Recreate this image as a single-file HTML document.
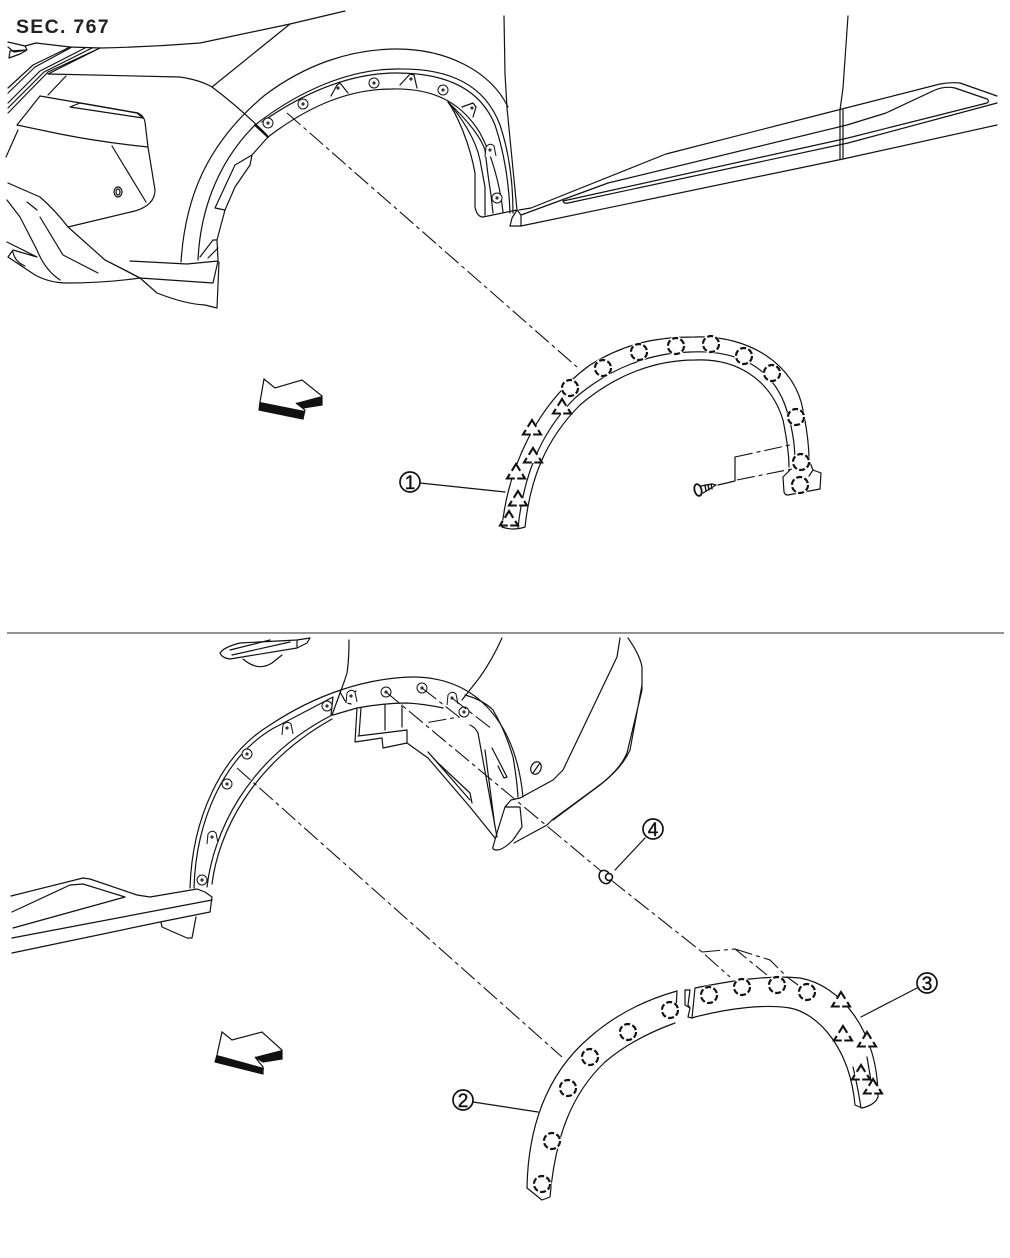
<!DOCTYPE html>
<html><head><meta charset="utf-8"><style>
html,body{margin:0;padding:0;background:#fff}
svg{display:block}
text{font-family:"Liberation Sans",sans-serif}
</style></head><body>
<svg width="1010" height="1258" viewBox="0 0 1010 1258" xmlns="http://www.w3.org/2000/svg">
<defs>
<g id="c"><circle r="9.5" fill="#fff"/><circle r="8" fill="none" stroke="#111" stroke-width="2.2" stroke-dasharray="6 2.4"/></g>
<g id="t"><path d="M0-8.5 L9.5 7 L-9.5 7Z" fill="#fff"/><path d="M-4.2 -1.2 L0 -8 L4.2 -1.2 M6.2 1.9 L9 6.5 L1.2 6.5 M-6.2 1.9 L-9 6.5 L-1.2 6.5" fill="none" stroke="#111" stroke-width="2.1"/></g>
<g id="d"><circle r="5" fill="#fff" stroke="#111" stroke-width="1"/><circle r="1.6" fill="#333"/></g>
<g id="b"><path d="M-5 7 L-4 -3 Q0 -8 4 -4 L6 6" fill="#fff" stroke="#111" stroke-width="1"/><circle r="1.6" fill="#333"/></g>
<g id="p"><circle r="1.6" fill="#333"/></g>
</defs>
<text x="16" y="33" font-size="19.5" font-weight="700" letter-spacing="1.3" fill="#222">SEC. 767</text>
<path d="M7 633H1004" stroke="#555" stroke-width="1.3"/>

<g fill="none" stroke="#111" stroke-width="1.2" stroke-linecap="round" stroke-linejoin="round">
<!-- TOP: bumper -->
<path d="M345 11 L290 24 L200 43 Q150 47 100 48 L70 47 L36 43 L25 46 L8 42"/>
<path d="M290 24 L212 87"/>
<path d="M48 74 L180 77 Q200 80 212 87 Q240 108 267 135"/>
<path d="M48 74 L100 48 M8 88 L33 65 L70 47 M8 93 L35 67 L72 47 M8 103 L40 71 L85 48 M8 108 L44 72 L92 48 M8 113 L48 72 L100 48"/>
<path d="M8 47 L14 52 L27 50 L25 46 M10 51 L27 50 L20 54 L9 58Z"/>
<path d="M17 125 L40 96 L138 113 Q144 116 145 122 L148 147 Q100 142 60 134 Z"/>
<path d="M70 107 L80 103 L137 113 L143 118 Z"/>
<path d="M48 95 L66 76"/>
<path d="M112 146 L146 202"/>
<path d="M18 130 L6 157"/>
<path d="M148 147 L155 190 Q155 205 135 211 L68 227"/>
<ellipse cx="118" cy="192" rx="4" ry="5"/>
<ellipse cx="118" cy="192" rx="2" ry="3"/>
<path d="M8 183 L40 197 Q55 210 68 227 L105 260 Q125 270 140 278 L157 293 Q185 304 205 305 L217 308 L219 262"/>
<path d="M7 200 L20 217 L37 250 Q45 270 60 280"/>
<path d="M27 202 L37 210 M40 217 L63 255 L98 273"/>
<path d="M7 242 L37 257 M8 257 L13 250 L37 257 M13 252 Q15 262 25 266 M8 257 Q20 265 35 275 Q50 283 67 283 Q105 283 140 278"/>
<path d="M130 261 L187 264 L218 261 L213 283 L140 278 L105 260"/>
<!-- TOP: flare -->
<path d="M181 262 C185 200 205 145 265 95 C305 65 350 49 397 49 C445 49 490 70 508 107"/>
<path d="M198 260 C200 215 215 165 255 125 C300 90 350 69 397 69 C450 68 485 85 500 125 C510 155 513 185 513 213"/>
<path d="M262 122 C305 92 350 73 397 73 C445 73 480 88 495 125 C505 155 509 185 510 213"/>
<path d="M268 137 C310 105 350 89 392 89 C430 88 460 100 480 133 C492 155 500 185 503 212"/>
<path d="M255 125 L268 137" stroke-width="2"/>
<path d="M448 102 C465 118 480 135 485 150 L488 175 L491 195 L493 213"/>
<path d="M448 102 C462 118 476 140 480 160 L485 187 L485 215"/>
<path d="M448 102 C458 116 470 145 475 173 L475 207 Q477 217 483 217 L517 210"/>
<path d="M268 137 L252 155 L235 165 L215 208 L225 210 L235 187 L250 165 L252 155"/>
<path d="M225 210 L217 240 L218 260 M200 257 L213 240 L217 240 M208 258 L218 248"/>
<path d="M331 96 L337 85 L340 83 L348 93 M400 85 L410 74 L414 75 L417 88 M462 107 L473 103 L476 107 L473 117"/>
<!-- TOP: sill -->
<path d="M504 16 L505 74 L507 108 L517 210"/>
<path d="M848 16 L843 88 L840 110"/>
<path d="M519 210 L531 208 L666 154 L838 110 L940 84 Q950 82 960 83 L997 96"/>
<path d="M521 215 L608 183 L847 125 L886 113 L935 90 Q945 86 955 88 L987 99 Q990 101 987 103 L848 138 L563 201 Q564 204 568 203 L848 143 L997 103"/>
<path d="M510 226 L521 226 L843 159 L997 125"/>
<path d="M510 226 L512 218 L517 210 L521 215 L521 226"/>
<path d="M840 110 L840 159 M843 110 L843 159"/>

<!-- Part 1 -->
<path d="M502 527 C508 470 535 405 590 365 C630 340 665 337 695 337 C750 335 795 365 803 410 C807 430 809 445 809 460"/>
<path d="M518 528 C523 480 538 435 575 398 C610 368 650 353 690 352 C735 350 770 365 785 405 C792 425 795 445 795 462"/>
<path d="M525 527 C530 480 545 440 580 405 C615 375 655 360 695 360 C735 358 770 378 783 420 C787 440 789 455 789 467"/>
<path d="M502 527 Q513 531 525 527"/>
<path d="M790 470 L783 477 L784 492 Q785 495 788 495 L820 489 L821 473 L813 470 L809 476 M813 470 L809 460"/>

<!-- Leader 1 -->
<circle cx="410" cy="482" r="10" stroke-width="1.7"/>
<text x="410" y="489" font-size="19" text-anchor="middle" fill="#111" stroke="#111" stroke-width=".4">1</text>
<path d="M420 483 L505 492"/>

<!-- Screw -->
<ellipse cx="698" cy="490" rx="3.5" ry="6" transform="rotate(-15 698 490)" stroke-width="1.8"/>
<path d="M701 486 L712 484 L716 485 L703 493" stroke-width="1.2"/>
<path d="M705 485 L706 491 M708 484.5 L709 490 M711 484 L712 489" stroke-width="1.4"/>
<path d="M718 485 L735 481 L735 457"/>

<!-- BOTTOM: car -->
<path d="M220 653 Q224 647 240 643 L297 640 L310 638 L307 643 L297 648 L230 659 Q222 658 220 653Z"/>
<path d="M230 650 L270 640 M232 655 L290 642 M297 640 L297 648"/>
<path d="M243 659 Q258 672 272 663 L282 655"/>
<path d="M349 640 Q349 660 347 673 Q344 683 340 693 L332 715"/>
<path d="M190 888 C192 820 220 755 270 725 C315 695 365 678 413 677 C470 677 515 715 523 797"/>
<path d="M194 888 C196 820 224 758 272 729 L333 697 L331 715"/>
<path d="M207 887 C213 835 245 760 332 715"/>
<path d="M212 884 C218 835 250 765 332 719"/>
<path d="M465 695 Q483 700 493 710 Q505 730 513 757 Q517 780 518 797"/>
<path d="M333 715 L357 708 Q385 703 407 703 Q425 704 443 708"/>
<path d="M344 699 L340 692 M351 704 Q345 703 343 697 M348 696 L356 691"/>
<path d="M357 708 L355 742 L382 738 L383 748 L407 743 L407 730 L383 733 L358 736 M385 705 L385 730 M402 705 L402 727 M361 708 L359 735"/>
<path d="M407 743 L428 758 L470 807 L495 838 M428 752 L438 763 L470 793 L472 803 M428 752 L470 800"/>
<path d="M478 733 L497 837 M485 750 L495 827 M492 748 L507 777 L504 778 L498 766"/>
<path d="M478 733 Q475 727 470 725"/>
<path d="M493 847 Q497 832 505 807 L520 807 L522 827 L513 840 Q503 850 497 850 Q492 850 493 847Z"/>
<path d="M505 807 L511 800 L520 798 M514 843 L547 825 L552 820 L597 787 Q620 770 627 753 L642 690 L642 673 M553 820 L600 785 Q622 768 630 750 L642 685"/>
<path d="M628 638 Q640 655 642 667 L642 673"/>
<path d="M620 638 L617 657 L563 770 L553 780 L520 798"/>
<path d="M502 638 Q492 660 480 677 L462 700"/>
<ellipse cx="536" cy="768" rx="5" ry="6.5" transform="rotate(25 536 768)"/>
<path d="M533 773 L540 763"/>
<!-- Bottom sill -->
<path d="M11 896 L83 878 L90 879 L137 895 L150 897 L197 889 L205 892 L212 897 L210 912 L160 922 L12 953"/>
<path d="M12 912 L70 885 L83 884 L125 897 L13 928"/>
<path d="M12 938 L212 900"/>
<path d="M161 922 L162 927 L187 938 L192 938 L196 917"/>

<!-- Part 2 -->
<path d="M527 1188 C528 1130 545 1075 590 1037 C615 1015 645 1000 677 991 L676 1010"/>
<path d="M675 1023 C650 1032 625 1045 605 1062 C570 1095 555 1140 550 1197 L542 1200 L527 1188"/>

<!-- Part 3 -->
<path d="M695 988 C735 980 770 975 800 978 C840 985 878 1030 878 1097 Q875 1105 862 1108 L855 1105 C850 1050 820 1014 790 1008 C765 1004 730 1008 695 1017 L692 1018 L695 988"/>
<path d="M861 1108 Q858 1088 853 1067 M867 1057 L872 1087"/>
<path d="M685 990 L690 990 L688 1005 L690 1008 M685 990 L685 1005 L690 1008 M690 1008 L688 1017 L692 1018"/>

<!-- Leaders -->
<circle cx="463" cy="1100" r="10" stroke-width="1.7"/>
<text x="463" y="1107" font-size="19" text-anchor="middle" fill="#111" stroke="#111" stroke-width=".4">2</text>
<path d="M473 1102 L538 1112"/>
<circle cx="927" cy="983" r="10" stroke-width="1.7"/>
<text x="927" y="990" font-size="19" text-anchor="middle" fill="#111" stroke="#111" stroke-width=".4">3</text>
<path d="M917 988 L861 1017"/>
<circle cx="653" cy="829" r="10" stroke-width="1.7"/>
<text x="653" y="836" font-size="19" text-anchor="middle" fill="#111" stroke="#111" stroke-width=".4">4</text>
<path d="M645 838 L615 870"/>
<!-- clip 4 -->
<ellipse cx="605" cy="877" rx="5.5" ry="7" transform="rotate(-30 605 877)" stroke-width="1.5"/>
<circle cx="609" cy="877" r="3.5" fill="#fff" stroke-width="1.6"/>
</g>

<!-- fasteners -->
<use href="#d" x="268" y="123"/><use href="#d" x="303" y="104"/><use href="#d" x="374" y="83"/><use href="#d" x="443" y="90"/>
<use href="#p" x="338" y="88"/><use href="#p" x="411" y="79"/><use href="#p" x="472" y="108"/><use href="#b" x="490" y="150"/><use href="#d" x="497" y="198"/>
<use href="#d" x="327" y="706"/><use href="#b" x="287" y="728"/><use href="#d" x="247" y="754"/><use href="#d" x="227" y="784"/><use href="#b" x="212" y="837"/><use href="#d" x="202" y="880"/>
<use href="#b" x="351" y="696"/><use href="#d" x="386" y="692"/><use href="#d" x="422" y="688"/><use href="#b" x="452" y="698"/><use href="#d" x="464" y="712"/>

<!-- dashed connectors -->
<g fill="none" stroke="#111" stroke-width="1.1" stroke-dasharray="18 4 4 4">
<path d="M287 113 L577 367"/>
<path d="M386 692 L601 871 M611 880 L702 952 L730 977"/>
<path d="M237 768 L562 1057"/>
<path d="M422 688 L459 717 L425 723 M452 698 L492 729"/>
<path d="M702 952 L735 949 L767 975 M735 949 L770 960 L787 977 L798 985"/>
<path d="M737 480 L792 469"/>
<path d="M735 457 L790 445"/>
</g>

<!-- dashed clips part 1 -->
<use href="#c" x="570" y="388"/><use href="#c" x="603" y="368"/><use href="#c" x="639" y="352"/><use href="#c" x="676" y="346"/><use href="#c" x="711" y="344"/><use href="#c" x="744" y="356"/><use href="#c" x="772" y="373"/><use href="#c" x="796" y="417"/><use href="#c" x="801" y="462"/><use href="#c" x="800" y="485"/>
<use href="#t" x="562" y="407"/><use href="#t" x="532" y="428"/><use href="#t" x="533" y="456"/><use href="#t" x="516" y="472"/><use href="#t" x="518" y="499"/><use href="#t" x="509" y="519"/>
<!-- part 2 -->
<use href="#c" x="670" y="1010"/><use href="#c" x="628" y="1032"/><use href="#c" x="590" y="1057"/><use href="#c" x="568" y="1088"/><use href="#c" x="552" y="1141"/><use href="#c" x="542" y="1184"/>
<!-- part 3 -->
<use href="#c" x="709" y="995"/><use href="#c" x="742" y="987"/><use href="#c" x="777" y="985"/><use href="#c" x="807" y="992"/>
<use href="#t" x="841" y="1000"/><use href="#t" x="843" y="1034"/><use href="#t" x="867" y="1040"/><use href="#t" x="861" y="1073"/><use href="#t" x="873" y="1087"/>

<!-- view arrows -->
<path d="M264 379 L275 388 L302 380 L322 396 L322 405 L303 408 L296 403 L305 410 L303 419 L259 410 L260 402Z" fill="#fff" stroke="#111" stroke-width="1.2"/>
<path d="M260 402 L305 411 L303 419 L259 410Z M296 403 L322 396 L322 405 L303 408Z" fill="#111"/>
<path d="M222 1032 L232 1040 L262 1032 L282 1050 L282 1059 L263 1062 L255 1057 L263 1067 L263 1074 L215 1062 L217 1055Z" fill="#fff" stroke="#111" stroke-width="1.2"/>
<path d="M217 1055 L264 1068 L263 1074 L215 1062Z M255 1057 L282 1050 L282 1059 L263 1062Z" fill="#111"/>
</svg>
</body></html>
